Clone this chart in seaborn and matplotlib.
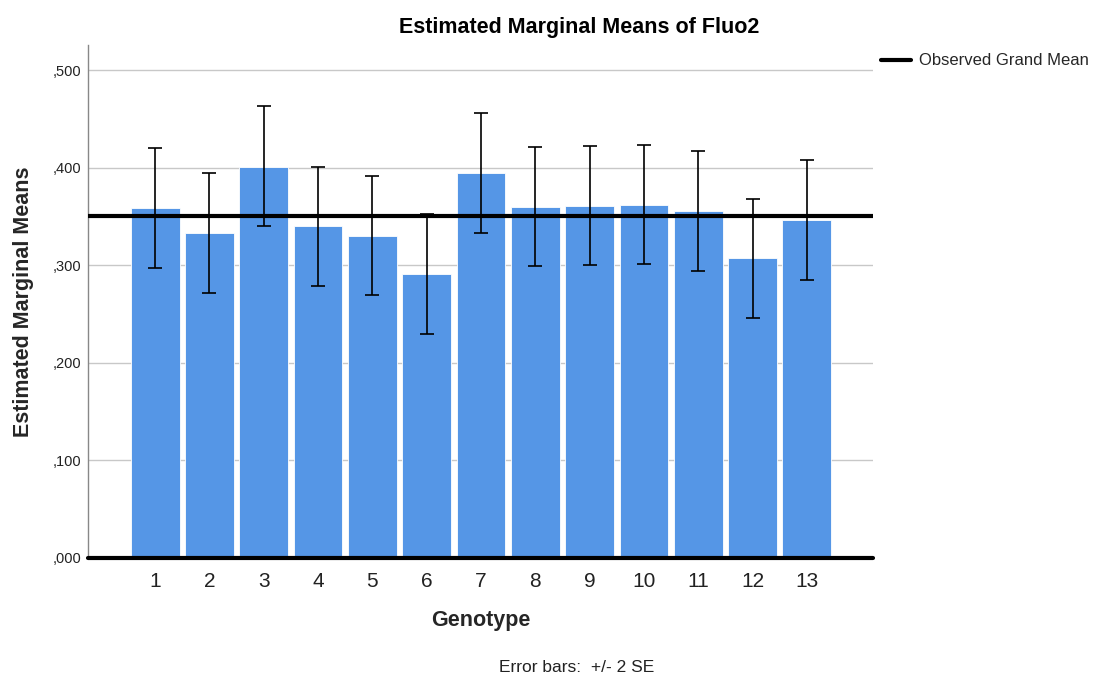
import matplotlib
matplotlib.use("Agg")
import matplotlib.pyplot as plt
import seaborn as sns
import numpy as np
import pandas as pd
from matplotlib.lines import Line2D

genotypes = [str(i) for i in range(1, 14)]
means = [0.3585, 0.333, 0.401, 0.340, 0.330, 0.2905, 0.3945, 0.360, 0.361, 0.362, 0.3555, 0.307, 0.3465]
upper = [0.420, 0.394, 0.463, 0.401, 0.391, 0.352, 0.456, 0.421, 0.422, 0.423, 0.417, 0.368, 0.408]
lower = [0.297, 0.272, 0.340, 0.279, 0.269, 0.229, 0.333, 0.299, 0.300, 0.301, 0.294, 0.246, 0.285]
grand_mean = 0.3505
yticks = [0.0, 0.1, 0.2, 0.3, 0.4, 0.5]
ytick_labels = [",000", ",100", ",200", ",300", ",400", ",500"]

sns.set_theme(style="white")
plt.rcParams['font.family'] = ['Liberation Sans', 'DejaVu Sans']

df = pd.DataFrame({"Genotype": genotypes, "Mean": means})

fig = plt.figure(figsize=(10.95, 6.77), dpi=100)
ax = fig.add_axes([0.0804, 0.1758, 0.7168, 0.7577])

sns.barplot(data=df, x="Genotype", y="Mean", color="#5596E6", saturation=1,
            width=0.9, errorbar=None, ax=ax, zorder=2)
for p in ax.patches:
    p.set_edgecolor("white")
    p.set_linewidth(0.6)

xs = np.arange(len(genotypes))
m = np.array(means)
ax.errorbar(xs, m, yerr=[m - np.array(lower), np.array(upper) - m], fmt="none",
            ecolor="black", elinewidth=1.2, capsize=4.7, capthick=1.2, zorder=4)

ax.axhline(grand_mean, color="black", lw=3, zorder=3)
ax.axhline(0, color="black", lw=3, zorder=5, clip_on=False)

ax.set_xlim(-1.234, 13.215)
ax.set_ylim(0, 0.5256)
ax.set_yticks(yticks)
ax.set_yticklabels(ytick_labels, fontsize=10.5, color="#222222")
ax.tick_params(axis="x", labelsize=15, colors="#222222", pad=10, length=0)
ax.tick_params(axis="y", length=0, pad=5)
ax.yaxis.grid(True, color="#c8c8c8", lw=1, zorder=0)
ax.set_axisbelow(True)
for s in ["top", "right", "bottom"]:
    ax.spines[s].set_visible(False)
ax.spines["left"].set_color("#888888")
ax.spines["left"].set_linewidth(1)

ax.set_xlabel("Genotype", fontsize=15.5, fontweight="bold", labelpad=14)
ax.set_ylabel("Estimated Marginal Means", fontsize=15.5, fontweight="bold", labelpad=13)
fig.text(0.529, 0.960, "Estimated Marginal Means of Fluo2", ha="center", va="center",
         fontsize=15.5, fontweight="bold", color="black")

handle = Line2D([0], [0], color="black", lw=3)
ax.legend([handle], ["Observed Grand Mean"], loc="upper left", bbox_to_anchor=(1.0, 1.0),
          frameon=False, fontsize=12, handlelength=1.8, handletextpad=0.45, borderaxespad=0.1)

fig.text(0.527, 0.003, "Error bars:  +/- 2 SE", ha="center", va="bottom", fontsize=12.5, color="#222222")

fig.savefig("out.png", dpi=100)
